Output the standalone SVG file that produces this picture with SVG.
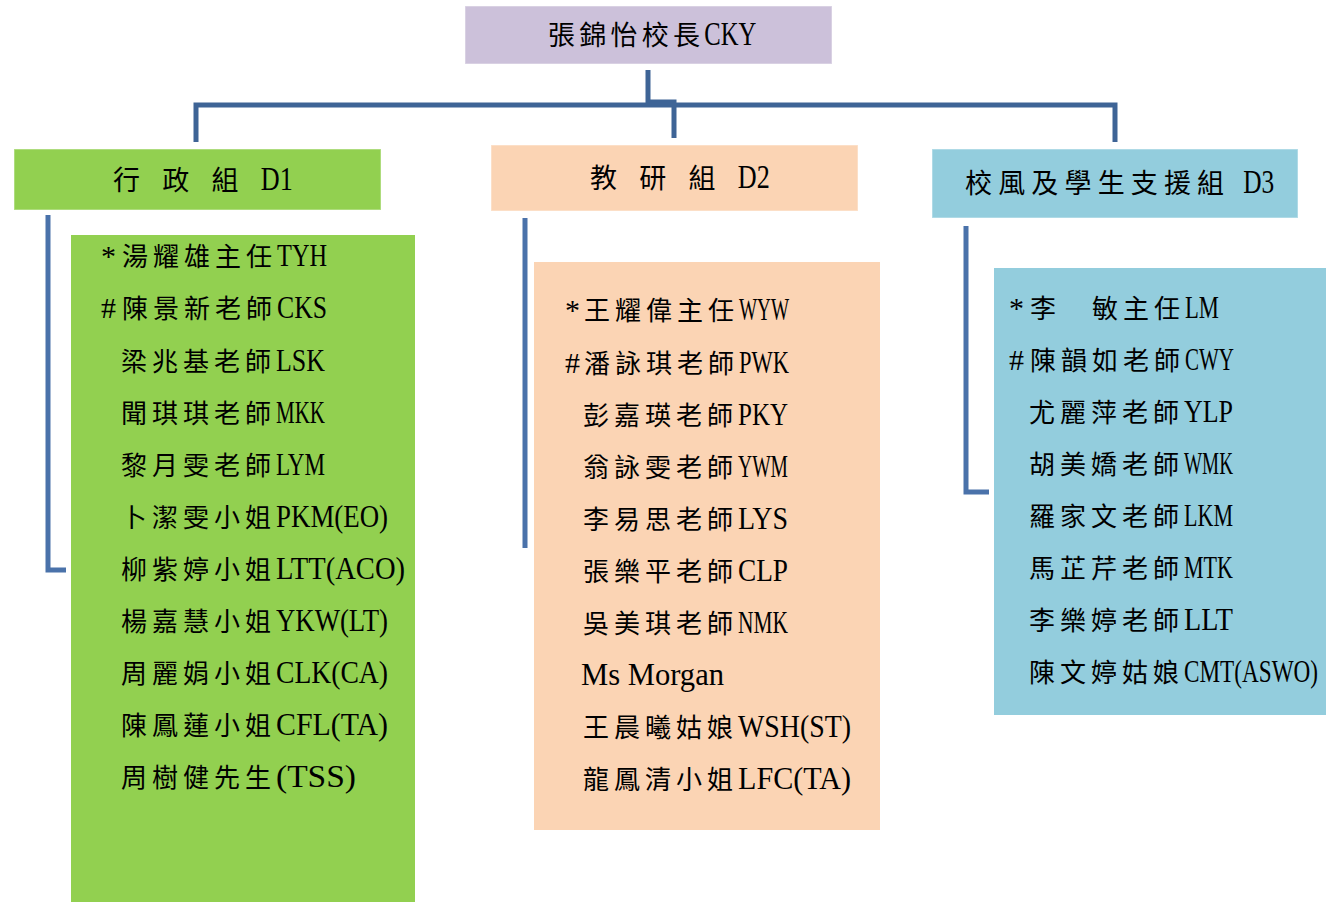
<svg xmlns="http://www.w3.org/2000/svg" width="1330" height="902" viewBox="0 0 1330 902">
<style>
text{font-family:"Liberation Serif","Noto Sans CJK TC",serif;font-size:26px;fill:#000}
.hd{font-size:27px}
.c{letter-spacing:5px}
.lt{font-size:32px}
.hl{font-size:33px}
.p1{letter-spacing:6px;font-size:30px}
.p2{letter-spacing:4px;font-size:30px}
.top{fill:none;stroke:#3E6496;stroke-width:5}
.br{fill:none;stroke:#4A72AA;stroke-width:5}
.g{fill:#92D050}.p{fill:#FBD4B4}.b{fill:#93CDDD}.l{fill:#CCC1DA}
.edge{stroke-opacity:0.35;stroke:#fff;stroke-width:1.5}
</style>
<rect width="1330" height="902" fill="#fff"/>
<g id="connectors">
<path class="top" d="M648,70 V102 H674 V138"/>
<path class="top" d="M196,142 V105 H1115 V142"/>
<path class="br" d="M48,215 V570 H66"/>
<path class="br" d="M525,218 V548"/>
<path class="br" d="M966,226 V492 H989"/>
</g>
<g id="principal">
<rect class="l edge" x="465" y="6" width="367" height="58"/>
<text class="hd" x="548" y="45"><tspan textLength="152" lengthAdjust="spacing">張錦怡校長</tspan><tspan class="hl" textLength="52" lengthAdjust="spacingAndGlyphs">CKY</tspan></text>
</g>
<g id="d1-header">
<rect class="g edge" x="14" y="149" width="367" height="61"/>
<text class="hd" x="113" y="190"><tspan textLength="140" lengthAdjust="spacing">行 政 組 </tspan><tspan class="hl" textLength="32" lengthAdjust="spacingAndGlyphs">D1</tspan></text>
</g>
<g id="d2-header">
<rect class="p edge" x="491" y="145" width="367" height="66"/>
<text class="hd" x="590" y="188"><tspan textLength="140" lengthAdjust="spacing">教 研 組 </tspan><tspan class="hl" textLength="32" lengthAdjust="spacingAndGlyphs">D2</tspan></text>
</g>
<g id="d3-header">
<rect class="b edge" x="932" y="149" width="366" height="69"/>
<text class="hd" x="965" y="193"><tspan textLength="272" lengthAdjust="spacing">校風及學生支援組 </tspan><tspan class="hl" textLength="31" lengthAdjust="spacingAndGlyphs">D3</tspan></text>
</g>
<g id="d1-members">
<rect class="g" x="71" y="235" width="344" height="667"/>
<text x="101" y="266"><tspan class="p1">*</tspan><tspan class="c">湯耀雄主任</tspan><tspan class="lt" textLength="50" lengthAdjust="spacingAndGlyphs">TYH</tspan></text>
<text x="101" y="318"><tspan class="p1">#</tspan><tspan class="c">陳景新老師</tspan><tspan class="lt" textLength="50" lengthAdjust="spacingAndGlyphs">CKS</tspan></text>
<text x="121" y="371"><tspan class="c">梁兆基老師</tspan><tspan class="lt" textLength="49" lengthAdjust="spacingAndGlyphs">LSK</tspan></text>
<text x="121" y="423"><tspan class="c">聞琪琪老師</tspan><tspan class="lt" textLength="49" lengthAdjust="spacingAndGlyphs">MKK</tspan></text>
<text x="121" y="475"><tspan class="c">黎月雯老師</tspan><tspan class="lt" textLength="49" lengthAdjust="spacingAndGlyphs">LYM</tspan></text>
<text x="121" y="527"><tspan class="c">卜潔雯小姐</tspan><tspan class="lt" textLength="112" lengthAdjust="spacingAndGlyphs">PKM(EO)</tspan></text>
<text x="121" y="579"><tspan class="c">柳紫婷小姐</tspan><tspan class="lt" textLength="129" lengthAdjust="spacingAndGlyphs">LTT(ACO)</tspan></text>
<text x="121" y="631"><tspan class="c">楊嘉慧小姐</tspan><tspan class="lt" textLength="112" lengthAdjust="spacingAndGlyphs">YKW(LT)</tspan></text>
<text x="121" y="683"><tspan class="c">周麗娟小姐</tspan><tspan class="lt" textLength="112" lengthAdjust="spacingAndGlyphs">CLK(CA)</tspan></text>
<text x="121" y="735"><tspan class="c">陳鳳蓮小姐</tspan><tspan class="lt" textLength="112" lengthAdjust="spacingAndGlyphs">CFL(TA)</tspan></text>
<text x="121" y="787"><tspan class="c">周樹健先生</tspan><tspan class="lt" textLength="80" lengthAdjust="spacingAndGlyphs">(TSS)</tspan></text>
</g>
<g id="d2-members">
<rect class="p" x="534" y="262" width="346" height="568"/>
<text x="565" y="320"><tspan class="p2">*</tspan><tspan class="c">王耀偉主任</tspan><tspan class="lt" textLength="50" lengthAdjust="spacingAndGlyphs">WYW</tspan></text>
<text x="565" y="373"><tspan class="p2">#</tspan><tspan class="c">潘詠琪老師</tspan><tspan class="lt" textLength="50" lengthAdjust="spacingAndGlyphs">PWK</tspan></text>
<text x="583" y="425"><tspan class="c">彭嘉瑛老師</tspan><tspan class="lt" textLength="50" lengthAdjust="spacingAndGlyphs">PKY</tspan></text>
<text x="583" y="477"><tspan class="c">翁詠雯老師</tspan><tspan class="lt" textLength="50" lengthAdjust="spacingAndGlyphs">YWM</tspan></text>
<text x="583" y="529"><tspan class="c">李易思老師</tspan><tspan class="lt" textLength="50" lengthAdjust="spacingAndGlyphs">LYS</tspan></text>
<text x="583" y="581"><tspan class="c">張樂平老師</tspan><tspan class="lt" textLength="50" lengthAdjust="spacingAndGlyphs">CLP</tspan></text>
<text x="583" y="633"><tspan class="c">吳美琪老師</tspan><tspan class="lt" textLength="50" lengthAdjust="spacingAndGlyphs">NMK</tspan></text>
<text class="lt" x="581" y="685" textLength="143" lengthAdjust="spacingAndGlyphs">Ms Morgan</text>
<text x="583" y="737"><tspan class="c">王晨曦姑娘</tspan><tspan class="lt" textLength="113" lengthAdjust="spacingAndGlyphs">WSH(ST)</tspan></text>
<text x="583" y="789"><tspan class="c">龍鳳清小姐</tspan><tspan class="lt" textLength="113" lengthAdjust="spacingAndGlyphs">LFC(TA)</tspan></text>
</g>
<g id="d3-members">
<rect class="b" x="994" y="268" width="332" height="447"/>
<text x="1009" y="318"><tspan class="p1">*</tspan><tspan class="c">李　敏主任</tspan><tspan class="lt" textLength="34" lengthAdjust="spacingAndGlyphs">LM</tspan></text>
<text x="1009" y="370"><tspan class="p1">#</tspan><tspan class="c">陳韻如老師</tspan><tspan class="lt" textLength="49" lengthAdjust="spacingAndGlyphs">CWY</tspan></text>
<text x="1029" y="422"><tspan class="c">尤麗萍老師</tspan><tspan class="lt" textLength="49" lengthAdjust="spacingAndGlyphs">YLP</tspan></text>
<text x="1029" y="474"><tspan class="c">胡美嬌老師</tspan><tspan class="lt" textLength="49" lengthAdjust="spacingAndGlyphs">WMK</tspan></text>
<text x="1029" y="526"><tspan class="c">羅家文老師</tspan><tspan class="lt" textLength="49" lengthAdjust="spacingAndGlyphs">LKM</tspan></text>
<text x="1029" y="578"><tspan class="c">馬芷芹老師</tspan><tspan class="lt" textLength="49" lengthAdjust="spacingAndGlyphs">MTK</tspan></text>
<text x="1029" y="630"><tspan class="c">李樂婷老師</tspan><tspan class="lt" textLength="49" lengthAdjust="spacingAndGlyphs">LLT</tspan></text>
<text x="1029" y="682"><tspan class="c">陳文婷姑娘</tspan><tspan class="lt" textLength="134" lengthAdjust="spacingAndGlyphs">CMT(ASWO)</tspan></text>
</g>
</svg>
